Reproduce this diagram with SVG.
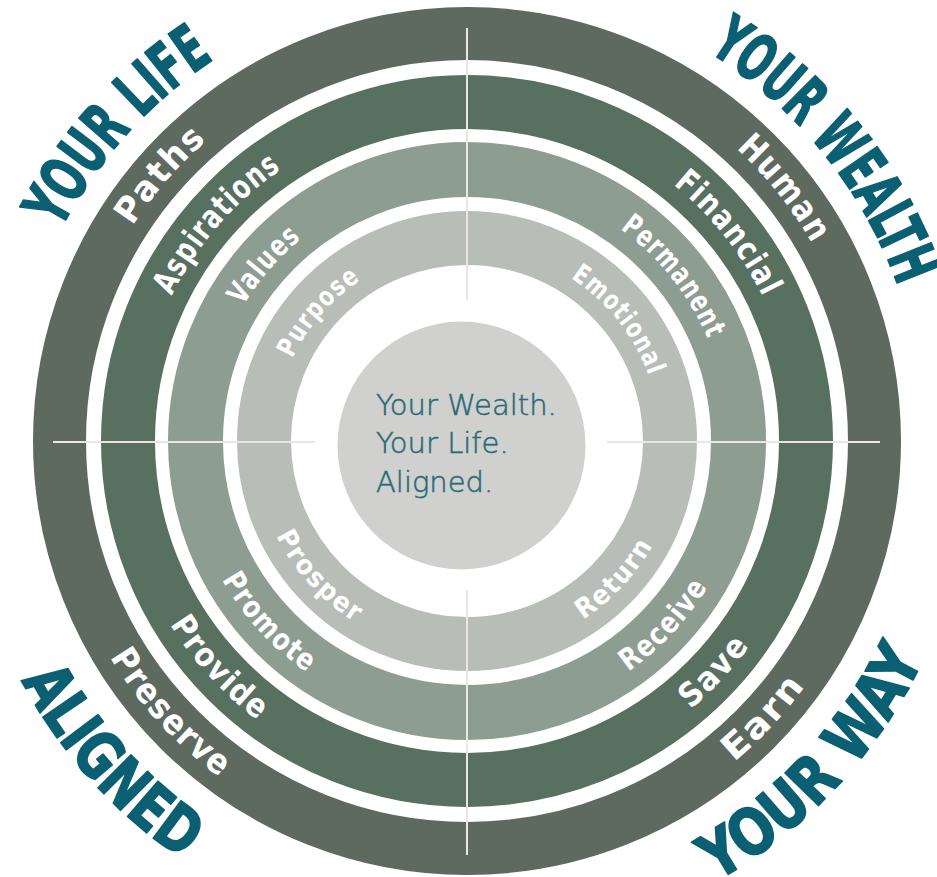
<svg xmlns="http://www.w3.org/2000/svg" width="937" height="877" viewBox="0 0 937 877">
<style>
.ring{fill:none}
.lbl{fill:#ffffff;font-family:"Liberation Sans Narrow","DejaVu Sans Condensed","DejaVu Sans",sans-serif;font-weight:bold;font-stretch:condensed;letter-spacing:1.5px}
.big{fill:#0b5f73;stroke:#0b5f73;stroke-width:1.6px;stroke-linejoin:round;font-family:"Liberation Sans Narrow","DejaVu Sans Condensed","DejaVu Sans",sans-serif;font-weight:bold;font-stretch:condensed;font-size:64px}
.ctr{fill:#276b76;stroke:#276b76;stroke-width:0.5px;font-family:"DejaVu Sans","Open Sans",sans-serif;font-weight:300;font-size:29px}
.cross{stroke:#ebe5e5;stroke-width:2;fill:none}
.r1{font-size:35px}.r2{font-size:33px}.r3{font-size:30px}.r4{font-size:27px}
</style>
<defs>
<path id="tl1" d="M69.56 434.06 A397.5 397.5 0 0 1 404.82 48.39"/>
<path id="tl2" d="M138.05 435.26 A329 329 0 0 1 415.53 116.05"/>
<path id="tl3" d="M205.54 436.44 A261.5 261.5 0 0 1 426.09 182.72"/>
<path id="tl4" d="M274.03 437.63 A193 193 0 0 1 436.81 250.38"/>
<path id="tlb" d="M9.28 425.02 A458 458 0 0 1 403.26 -12.54"/>
<path id="tr1" d="M546.25 51.48 A397.5 397.5 0 0 1 864.36 451.41"/>
<path id="tr2" d="M532.59 118.61 A329 329 0 0 1 795.89 449.61"/>
<path id="tr3" d="M519.14 184.75 A261.5 261.5 0 0 1 728.41 447.85"/>
<path id="tr4" d="M505.48 251.88 A193 193 0 0 1 659.93 446.05"/>
<path id="trb" d="M554.39 -8.59 A458 458 0 0 1 924.93 448.99"/>
<path id="bl1" d="M49.90 459.21 A417.5 417.5 0 0 0 412.50 854.93"/>
<path id="bl2" d="M118.33 456.22 A349 349 0 0 0 421.45 787.01"/>
<path id="bl3" d="M185.77 453.28 A281.5 281.5 0 0 0 430.26 720.09"/>
<path id="bl4" d="M254.20 450.29 A213 213 0 0 0 439.20 652.18"/>
<path id="blb" d="M-38.69 458.66 A506 506 0 0 0 396.58 942.08"/>
<path id="br4" d="M492.96 652.41 A213 213 0 0 0 679.71 452.15"/>
<path id="br3" d="M501.31 720.40 A281.5 281.5 0 0 0 748.11 455.73"/>
<path id="br2" d="M509.53 787.40 A349 349 0 0 0 815.52 459.27"/>
<path id="br1" d="M517.88 855.39 A417.5 417.5 0 0 0 883.93 462.85"/>
<path id="brb" d="M528.67 943.23 A506 506 0 0 0 972.31 467.48"/>
</defs>
<rect width="937" height="877" fill="#ffffff"/>
<g id="rings">
<circle id="ring1" class="ring" cx="467" cy="441" r="407.5" stroke="#5e695f" stroke-width="53"/>
<circle id="ring2" class="ring" cx="467" cy="441" r="339" stroke="#587060" stroke-width="54"/>
<circle id="ring3" class="ring" cx="467" cy="441" r="271.5" stroke="#8e9d92" stroke-width="55"/>
<circle id="ring4" class="ring" cx="467" cy="441" r="203" stroke="#b8bdb8" stroke-width="54"/>
<circle id="core" cx="461.5" cy="445.5" r="124" fill="#d0d0ce"/>
</g>
<g id="connectors">
<line class="cross" x1="53" y1="442" x2="315" y2="442"/>
<line class="cross" x1="607" y1="442" x2="880" y2="442"/>
<line class="cross" x1="467" y1="28" x2="467" y2="300"/>
<line class="cross" x1="467" y1="590" x2="467" y2="855"/>
</g>
<g id="center-text">
<text class="ctr" x="376" y="415">Your Wealth.</text>
<text class="ctr" x="376" y="453">Your Life.</text>
<text class="ctr" x="376" y="492">Aligned.</text>
</g>
<g id="quadrant-life">
<text class="lbl r1"><textPath href="#tl1" startOffset="50%" text-anchor="middle" textLength="115" lengthAdjust="spacingAndGlyphs">Paths</textPath></text>
<text class="lbl r2"><textPath href="#tl2" startOffset="50%" text-anchor="middle" textLength="170" lengthAdjust="spacingAndGlyphs">Aspirations</textPath></text>
<text class="lbl r3"><textPath href="#tl3" startOffset="50%" text-anchor="middle" textLength="90" lengthAdjust="spacingAndGlyphs">Values</textPath></text>
<text class="lbl r4"><textPath href="#tl4" startOffset="50%" text-anchor="middle" textLength="106" lengthAdjust="spacingAndGlyphs">Purpose</textPath></text>
<text class="big"><textPath href="#tlb" startOffset="50%" text-anchor="middle" textLength="232" lengthAdjust="spacingAndGlyphs">YOUR LIFE</textPath></text>
</g>
<g id="quadrant-wealth">
<text class="lbl r1"><textPath href="#tr1" startOffset="50%" text-anchor="middle" textLength="123" lengthAdjust="spacingAndGlyphs">Human</textPath></text>
<text class="lbl r2"><textPath href="#tr2" startOffset="50%" text-anchor="middle" textLength="146" lengthAdjust="spacingAndGlyphs">Financial</textPath></text>
<text class="lbl r3"><textPath href="#tr3" startOffset="50%" text-anchor="middle" textLength="143" lengthAdjust="spacingAndGlyphs">Permanent</textPath></text>
<text class="lbl r4"><textPath href="#tr4" startOffset="50%" text-anchor="middle" textLength="128" lengthAdjust="spacingAndGlyphs">Emotional</textPath></text>
<text class="big"><textPath href="#trb" startOffset="50%" text-anchor="middle" textLength="308" lengthAdjust="spacingAndGlyphs">YOUR WEALTH</textPath></text>
</g>
<g id="quadrant-aligned">
<text class="lbl r1"><textPath href="#bl1" startOffset="50%" text-anchor="middle" textLength="165" lengthAdjust="spacingAndGlyphs">Preserve</textPath></text>
<text class="lbl r2"><textPath href="#bl2" startOffset="50%" text-anchor="middle" textLength="132" lengthAdjust="spacingAndGlyphs">Provide</textPath></text>
<text class="lbl r3"><textPath href="#bl3" startOffset="50%" text-anchor="middle" textLength="128" lengthAdjust="spacingAndGlyphs">Promote</textPath></text>
<text class="lbl r4"><textPath href="#bl4" startOffset="50%" text-anchor="middle" textLength="120" lengthAdjust="spacingAndGlyphs">Prosper</textPath></text>
<text class="big"><textPath href="#blb" startOffset="50%" text-anchor="middle" textLength="243" lengthAdjust="spacingAndGlyphs">ALIGNED</textPath></text>
</g>
<g id="quadrant-way">
<text class="lbl r4"><textPath href="#br4" startOffset="50%" text-anchor="middle" textLength="104" lengthAdjust="spacingAndGlyphs">Return</textPath></text>
<text class="lbl r3"><textPath href="#br3" startOffset="50%" text-anchor="middle" textLength="118" lengthAdjust="spacingAndGlyphs">Receive</textPath></text>
<text class="lbl r2"><textPath href="#br2" startOffset="50%" text-anchor="middle" textLength="88" lengthAdjust="spacingAndGlyphs">Save</textPath></text>
<text class="lbl r1"><textPath href="#br1" startOffset="50%" text-anchor="middle" textLength="106" lengthAdjust="spacingAndGlyphs">Earn</textPath></text>
<text class="big"><textPath href="#brb" startOffset="50%" text-anchor="middle" textLength="309" lengthAdjust="spacingAndGlyphs">YOUR WAY</textPath></text>
</g>
</svg>
